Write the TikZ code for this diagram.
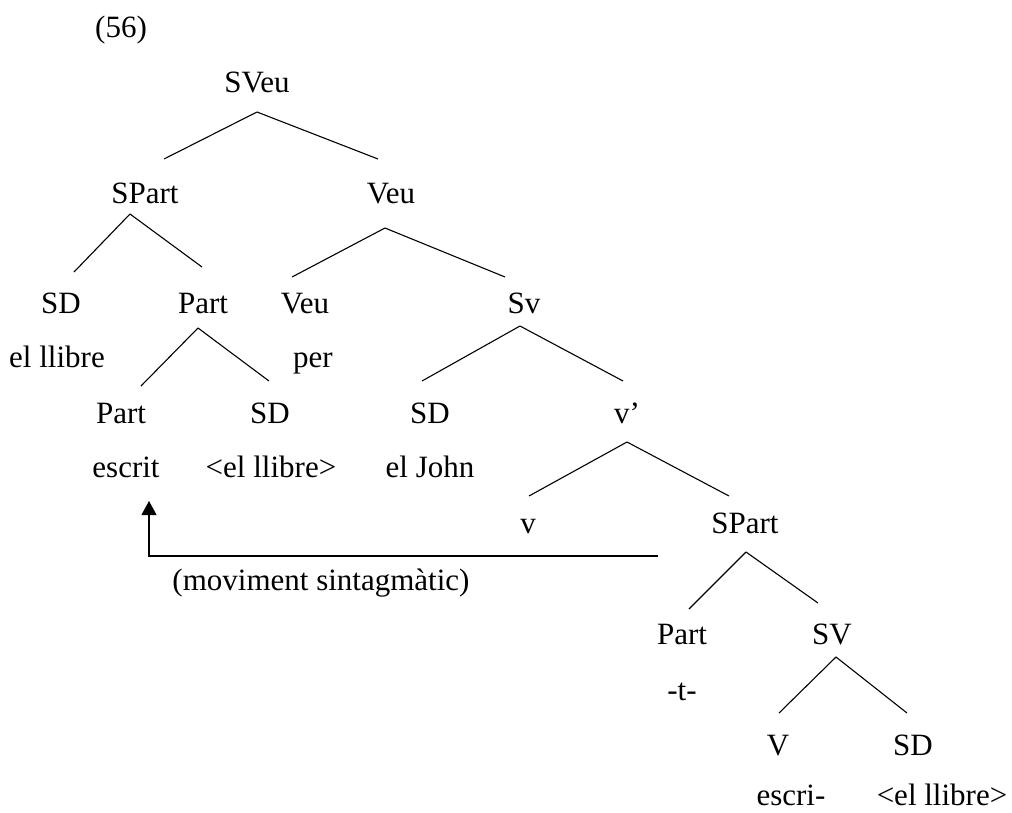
\documentclass[tikz,border=0pt]{standalone}
\usepackage{fontspec}
\setmainfont{Liberation Serif}
\usetikzlibrary{calc,arrows.meta}
\begin{document}
\begin{tikzpicture}[x=1pt,y=-1pt,
  lab/.style={anchor=base,inner sep=0pt,font=\fontsize{31}{36}\selectfont},
  branch/.style={line width=1.1pt},
  move/.style={line width=1.1pt,-{Triangle[width=15pt,length=14pt]}}]
\useasboundingbox (0,0) rectangle (1012,812);

% example number
\node[lab] (ex) at (121,37) {(56)};

% category labels
\node[lab] (sveu)   at (257,92)  {SVeu};
\node[lab] (spart)  at (145,203) {SPart};
\node[lab] (veu)    at (391,203) {Veu};
\node[lab] (sd1)    at (61,313)  {SD};
\node[lab] (part1)  at (203,313) {Part};
\node[lab] (veu0)   at (305,313) {Veu};
\node[lab] (sv1)    at (524,313) {Sv};
\node[lab] (part0)  at (121,423) {Part};
\node[lab] (sd2)    at (270,423) {SD};
\node[lab] (sd3)    at (430,423) {SD};
\node[lab] (vbar)   at (627,423) {v’};
\node[lab] (vsm)    at (528,533) {v};
\node[lab] (spart2) at (745,533) {SPart};
\node[lab] (part2)  at (682,644) {Part};
\node[lab] (svv)    at (832,644) {SV};
\node[lab] (vv)     at (778,755) {V};
\node[lab] (sd4)    at (913,755) {SD};

% lexical material
\node[lab] (llibre1) at (57,367)  {el llibre};
\node[lab] (per)     at (313,367) {per};
\node[lab] (escrit)  at (126,477) {escrit};
\node[lab] (llibre2) at (271,477) {<el llibre>};
\node[lab] (john)    at (430,477) {el John};
\node[lab] (tmorph)  at (682,700) {-t-};
\node[lab] (escri)   at (791,805) {escri-};
\node[lab] (llibre3) at (942,805) {<el llibre>};
\node[lab] (mvlabel) at (321,590) {(moviment sintagmàtic)};

% branches
\draw[branch] ($(sveu.base)+(0,20)$) -- ($(spart.base)+(19,-44)$);
\draw[branch] ($(sveu.base)+(0,20)$) -- ($(veu.base)+(-13,-44)$);

\draw[branch] ($(spart.base)+(-15,11)$) -- ($(sd1.base)+(13,-41)$);
\draw[branch] ($(spart.base)+(-15,11)$) -- ($(part1.base)+(-1,-46)$);

\draw[branch] ($(veu.base)+(-6,25)$) -- ($(veu0.base)+(-13,-36)$);
\draw[branch] ($(veu.base)+(-6,25)$) -- ($(sv1.base)+(-19,-36)$);

\draw[branch] ($(part1.base)+(-5,15)$) -- ($(part0.base)+(20,-37)$);
\draw[branch] ($(part1.base)+(-5,15)$) -- ($(sd2.base)+(-1,-42)$);

\draw[branch] ($(sv1.base)+(-4,13)$) -- ($(sd3.base)+(-8,-42)$);
\draw[branch] ($(sv1.base)+(-4,13)$) -- ($(vbar.base)+(-4,-42)$);

\draw[branch] ($(vbar.base)+(0,19)$) -- ($(vsm.base)+(1,-37)$);
\draw[branch] ($(vbar.base)+(0,19)$) -- ($(spart2.base)+(-16,-37)$);

\draw[branch] ($(spart2.base)+(1,19)$) -- ($(part2.base)+(7,-35)$);
\draw[branch] ($(spart2.base)+(1,19)$) -- ($(svv.base)+(-14,-41)$);

\draw[branch] ($(svv.base)+(4,13)$) -- ($(vv.base)+(1,-42)$);
\draw[branch] ($(svv.base)+(4,13)$) -- ($(sd4.base)+(-6,-42)$);

% movement arrow
\coordinate (mvstart) at (658,556);
\draw[move] (mvstart) -| ($(escrit.base)+(23,24)$);
\end{tikzpicture}
\end{document}
